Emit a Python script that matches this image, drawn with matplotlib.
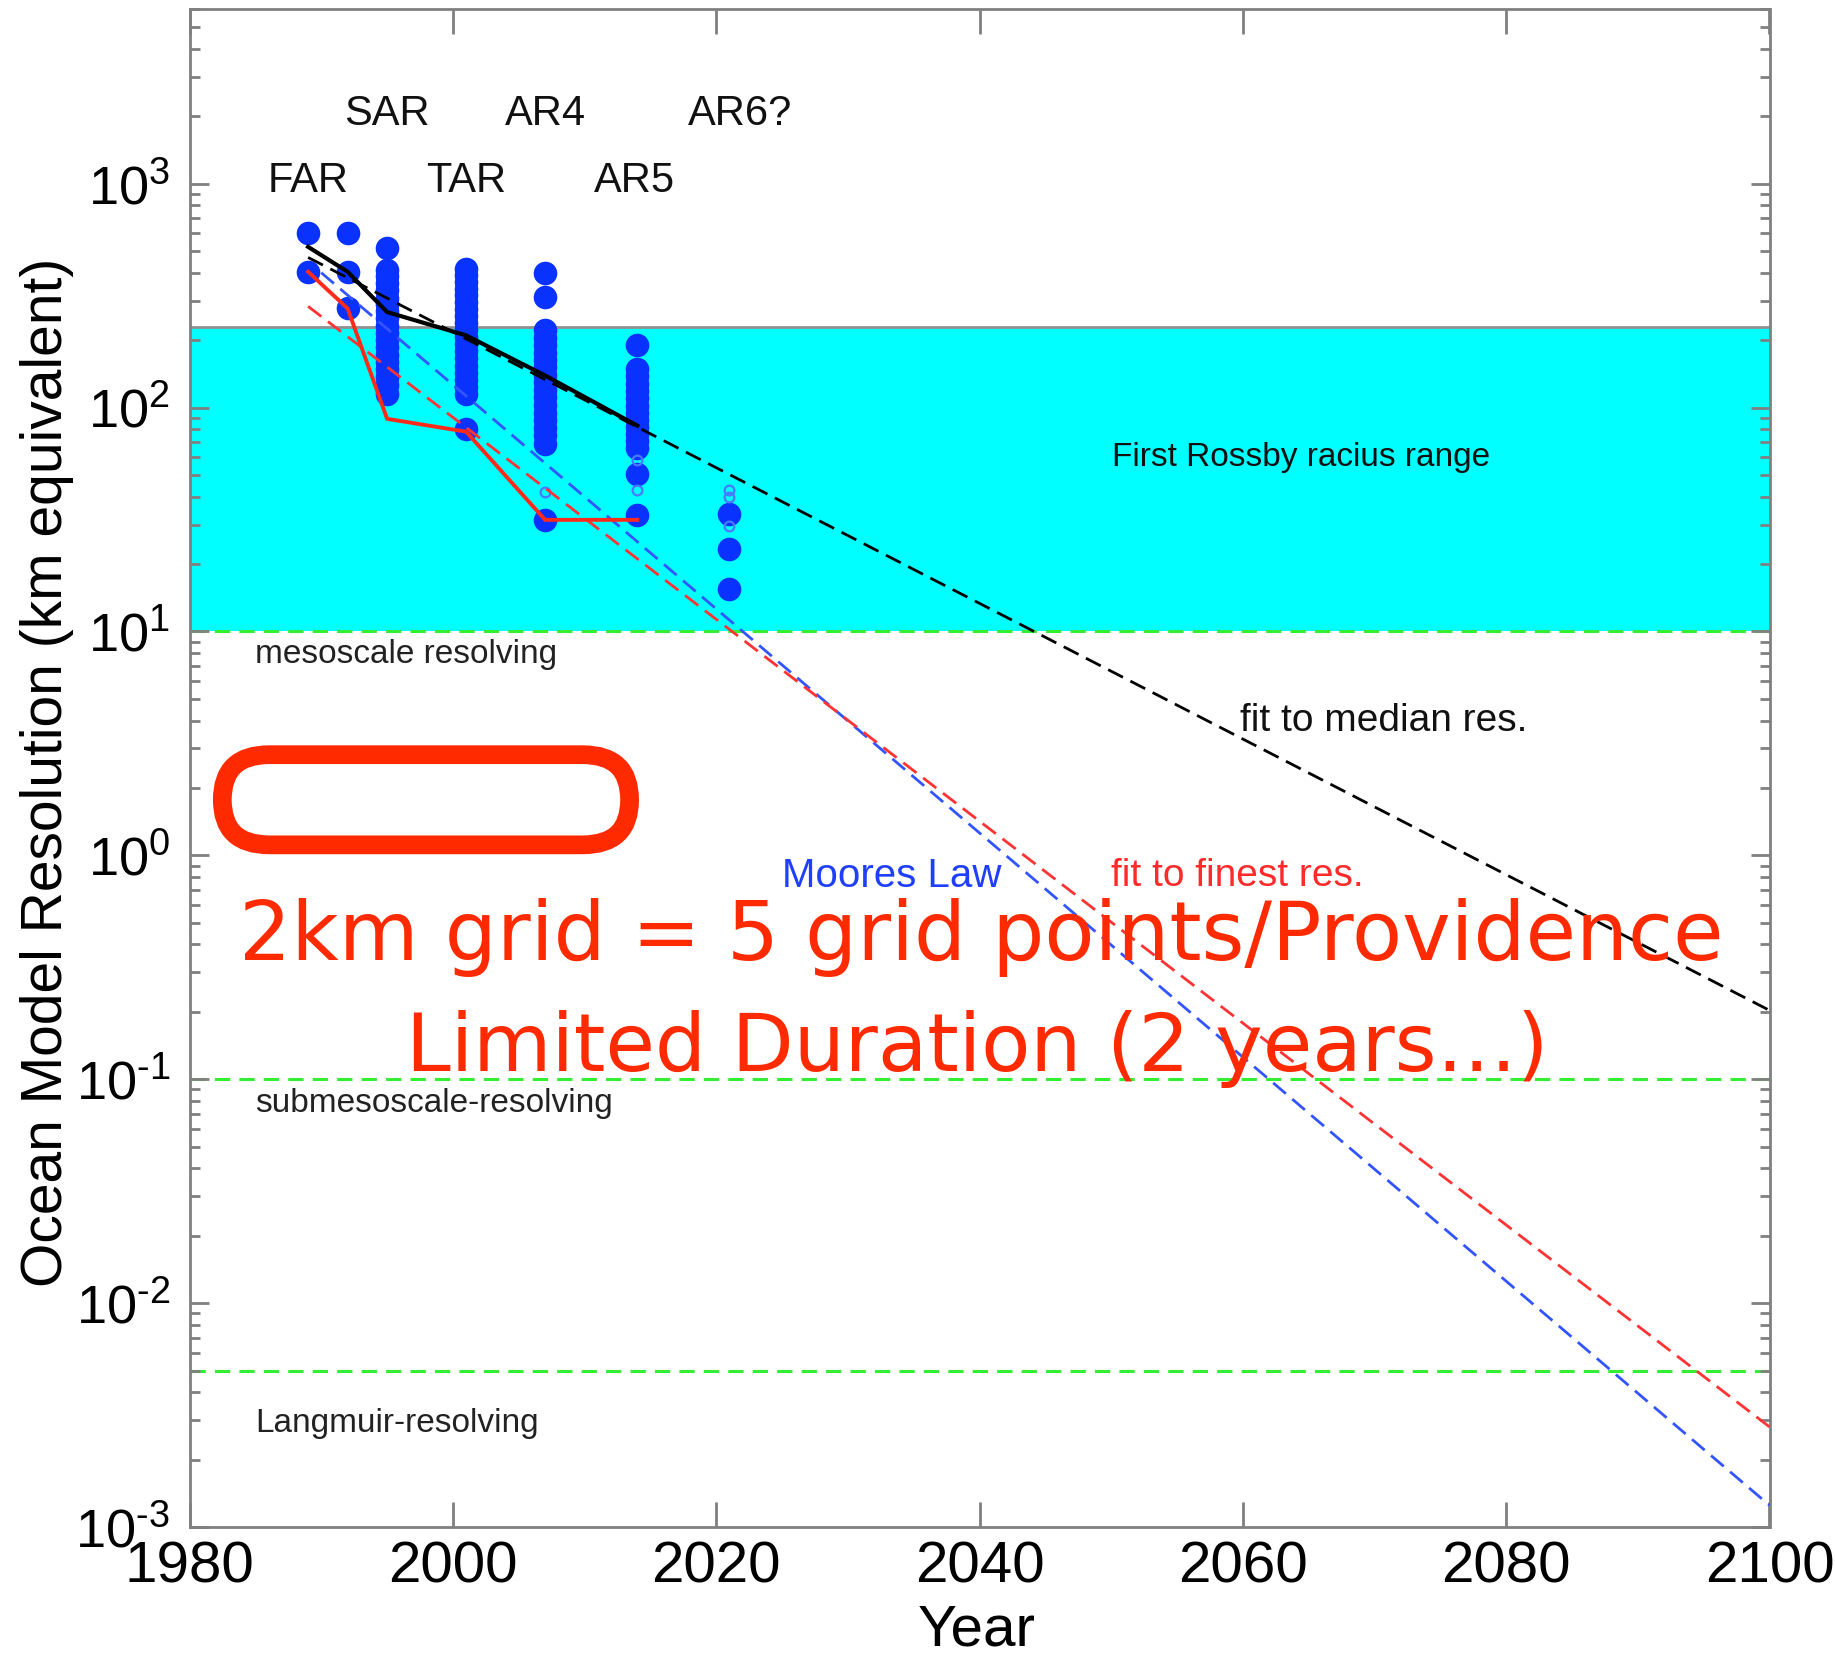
import matplotlib
matplotlib.use("Agg")
import matplotlib.pyplot as plt
from matplotlib.patches import FancyBboxPatch
from matplotlib.ticker import LogLocator, NullFormatter, FixedLocator, FuncFormatter
import math

plt.rcParams['font.family'] = ['Liberation Sans', 'DejaVu Sans']
plt.rcParams['mathtext.fontset'] = 'custom'
plt.rcParams['mathtext.rm'] = 'Liberation Sans'
plt.rcParams['mathtext.it'] = 'Liberation Sans:italic'
plt.rcParams['axes.unicode_minus'] = False

# ---------------- data ----------------
dots_1989 = [600, 404]
dots_1992 = [600, 404, 277]
dots_1995 = [514, 411, 385, 360, 335, 310, 290, 270, 250, 232, 215, 200, 186,
             172, 160, 148, 137, 126, 115]
dots_2001 = [417, 390, 365, 340, 318, 296, 275, 256, 238, 222, 206, 192, 178,
             166, 154, 143, 133, 124, 115, 80]
dots_2007 = [397, 312, 221, 205, 190, 176, 163, 151, 140, 130, 120, 111, 103,
             95, 88, 81, 75, 69, 31.5]
dots_2014 = [190, 148, 138, 128, 119, 110, 102, 95, 88, 82, 76, 71, 66, 50.6, 33]
dots_2021 = [33.5, 23.4, 15.5]
dot_columns = {1989: dots_1989, 1992: dots_1992, 1995: dots_1995, 2001: dots_2001,
               2007: dots_2007, 2014: dots_2014, 2021: dots_2021}

open_years = [2007, 2014, 2014, 2021, 2021, 2021]
open_vals = [42, 58, 42.6, 43, 40, 29.7]

model_years = [1989, 1992, 1995, 2001, 2007, 2014]
median_res = [522, 404, 267, 210, 139, 83]
finest_res = [404, 277, 89, 78, 31.5, 31.5]

fit_median_years = [1989, 2100]
fit_median_vals = [468, 0.203]
moore_years = [1990, 2100]
moore_vals = [400, 0.00125]
fit_finest_years = [1989, 2100]
fit_finest_vals = [283, 0.0028]

rossby_range = [10, 230]
scale_lines = [10, 0.1, 0.005]

report_labels = ['FAR', 'SAR', 'TAR', 'AR4', 'AR5', 'AR6?']
report_x = [1989, 1995, 2001, 2007, 2013.8, 2021.8]
report_y = [1023, 2037, 1023, 2037, 1023, 2037]

x_ticks = [1980, 2000, 2020, 2040, 2060, 2080, 2100]

# ---------------- figure ----------------
W, H = 1835, 1655
fig = plt.figure(figsize=(W / 100, H / 100), dpi=100)
ax = fig.add_axes([189.6 / W, 1 - 1527 / H, (1769.5 - 189.6) / W, (1527 - 9.4) / H])
ax.set_yscale('log')
ax.set_xlim(1980, 2100)
ax.set_ylim(1e-3, 6000)

grey = '#808080'
ax.axhspan(rossby_range[0], rossby_range[1], color='#00ffff', zorder=0, lw=0)
ax.axhline(rossby_range[1], color='#909090', lw=2, zorder=1)
for yv in scale_lines:
    ax.axhline(yv, color='#33ee33', lw=2.2, ls=(0, (5, 3)), zorder=1.5)

dot_color = '#0a32ff'
for yr, vals in dot_columns.items():
    ax.plot([yr] * len(vals), vals, 'o', color=dot_color, ms=17, mec='none',
            zorder=2)
ax.plot(open_years, open_vals, 'o', mfc='none', mec='#4a78ff', ms=7, mew=1.6,
        zorder=2.2)

ax.plot(fit_median_years, fit_median_vals, color='black', lw=2.0,
        ls=(0, (6, 3)), zorder=3)
ax.plot(moore_years, moore_vals, color='#3355ff', lw=2.0, ls=(0, (6, 3)), zorder=3)
ax.plot(fit_finest_years, fit_finest_vals, color='#ff3333', lw=2.0,
        ls=(0, (6, 3)), zorder=3)
ax.plot(model_years, median_res, color='black', lw=3, zorder=4)
ax.plot(model_years, finest_res, color='#ff2a1a', lw=2.8, zorder=4)

# text labels
for lab, xx, yy in zip(report_labels, report_x, report_y):
    ax.text(xx, yy, lab, fontsize=30, ha='center', va='center', color='#111111')
ax.text(2064.4, 60, 'First Rossby racius range', fontsize=24, ha='center',
        va='center', color='#111111')
ax.text(1985, 7.9, 'mesoscale resolving', fontsize=24, ha='left', va='center',
        color='#222222')
ax.text(1985, 0.078, 'submesoscale-resolving', fontsize=24, ha='left',
        va='center', color='#222222')
ax.text(1985, 0.0029, 'Langmuir-resolving', fontsize=24, ha='left', va='center',
        color='#222222')
ax.text(2059.8, 4.0, 'fit to median res.', fontsize=28, ha='left', va='center',
        color='#111111')
ax.text(2025.0, 0.805, 'Moores Law', fontsize=29, ha='left', va='center',
        color='#1f3fff')
ax.text(2050.0, 0.805, 'fit to finest res.', fontsize=28, ha='left', va='center',
        color='#ff2a2a')

red = '#ff2a00'
ax.text(2040.1, 0.43, '2km grid = 5 grid points/Providence', fontsize=59,
        ha='center', va='center', color=red, family='DejaVu Sans', zorder=6)
ax.text(2039.8, 0.137, 'Limited Duration (2 years\u2026)', fontsize=58,
        ha='center', va='center', color=red, family='DejaVu Sans', zorder=6)

box = FancyBboxPatch((0.0207, 0.4495), 0.2578, 0.0594,
                     boxstyle='round,pad=0,rounding_size=0.0297',
                     transform=ax.transAxes, fc='none', ec=red, lw=13.5,
                     zorder=6, clip_on=False)
ax.add_patch(box)


def ylab(v, pos):
    e = int(round(math.log10(v)))
    s = str(e).replace('-', '\u2010')
    return r'$\mathregular{10^{%s}}$' % s


# axes styling
for sp in ax.spines.values():
    sp.set_color(grey)
    sp.set_linewidth(2)
ax.xaxis.set_major_locator(FixedLocator(x_ticks))
ax.yaxis.set_major_locator(LogLocator(base=10, numticks=20))
ax.yaxis.set_major_formatter(FuncFormatter(ylab))
ax.yaxis.set_minor_locator(LogLocator(base=10, subs=range(2, 10), numticks=20))
ax.yaxis.set_minor_formatter(NullFormatter())
ax.tick_params(which='both', direction='in', top=True, right=True, color=grey,
               width=2)
ax.tick_params(which='major', length=14, pad=12)
ax.tick_params(which='minor', length=7)
ax.tick_params(axis='x', which='major', length=18, pad=10, labelsize=42)
ax.tick_params(axis='y', which='major', labelsize=39, pad=14)

fig.text(47 / W, 1 - 772 / H, 'Ocean Model Resolution (km equivalent)',
         rotation=90, fontsize=41, ha='center', va='center')
fig.text(977 / W, 1 - 1630 / H, 'Year', fontsize=42, ha='center', va='center')

fig.savefig('out.png', dpi=100)
